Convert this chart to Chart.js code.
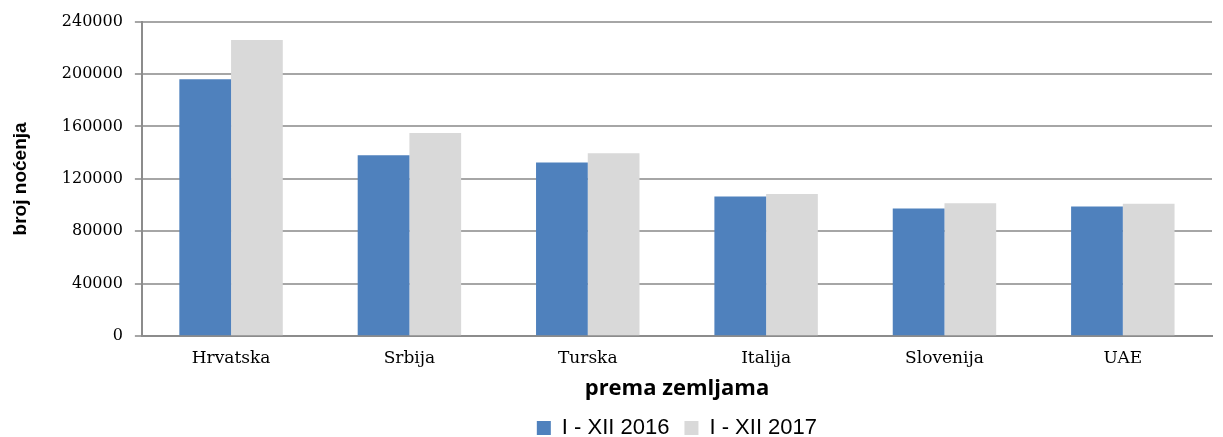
<!DOCTYPE html>
<html>
<head>
<meta charset="utf-8">
<script src="https://cdn.jsdelivr.net/npm/chart.js@4/dist/chart.umd.min.js"></script>
<style>
  html, body { margin: 0; padding: 0; background: #ffffff; }
  #wrap { width: 1223px; height: 437px; }
</style>
</head>
<body>
<div id="wrap"><canvas id="nights-chart"></canvas></div>
<script>
const countries = ['Hrvatska', 'Srbija', 'Turska', 'Italija', 'Slovenija', 'UAE'];
const nights2016 = [196000, 138000, 132500, 106500, 97500, 99000];
const nights2017 = [226000, 155000, 139500, 108500, 101500, 101000];
const seriesLabels = ['I - XII 2016', 'I - XII 2017'];
const yTicks = [0, 40000, 80000, 120000, 160000, 200000, 240000];

const gridColor = '#a6a6a6';

const ctx = document.getElementById('nights-chart');

new Chart(ctx, {
  type: 'bar',
  data: {
    labels: countries,
    datasets: [
      {
        label: seriesLabels[0],
        data: nights2016,
        backgroundColor: '#4f81bd',
        categoryPercentage: 0.58,
        barPercentage: 1,
      },
      {
        label: seriesLabels[1],
        data: nights2017,
        backgroundColor: '#d9d9d9',
        categoryPercentage: 0.58,
        barPercentage: 1,
      },
    ],
  },
  options: {
    responsive: true,
    maintainAspectRatio: false,
    animation: false,
    layout: { padding: { left: 9, right: 11, top: 14, bottom: -12 } },
    plugins: {
      tooltip: { enabled: false },
      legend: {
        position: 'bottom',
        fullSize: false,
        labels: {
          color: '#000000',
          font: { family: 'Liberation Sans', size: 22 },
          boxWidth: 14,
          boxHeight: 14,
          padding: 15,
        },
      },
    },
    scales: {
      x: {
        grid: { display: false },
        border: { color: '#8c8c8c', width: 2 },
        ticks: { color: '#000000', font: { family: 'DejaVu Serif', size: 17 }, padding: 4 },
        title: {
          display: true,
          text: 'prema zemljama',
          color: '#000000',
          font: { family: 'Open Sans', size: 22, weight: 'bold' },
          padding: { top: 3, bottom: 0 },
        },
      },
      y: {
        min: 0,
        max: 240000,
        afterBuildTicks: (axis) => {
          axis.ticks = yTicks.map((v) => ({ value: v }));
        },
        grid: { color: gridColor, lineWidth: 2, tickLength: 7 },
        border: { color: '#8c8c8c', width: 2 },
        ticks: {
          color: '#000000',
          font: { family: 'DejaVu Serif', size: 16 },
          padding: 12,
          callback: (v) => String(v),
        },
        title: {
          display: true,
          text: 'broj noćenja',
          color: '#000000',
          font: { family: 'Liberation Sans', size: 19, weight: 'bold' },
          padding: { top: 0, bottom: 18 },
        },
      },
    },
  },
});
</script>
</body>
</html>
